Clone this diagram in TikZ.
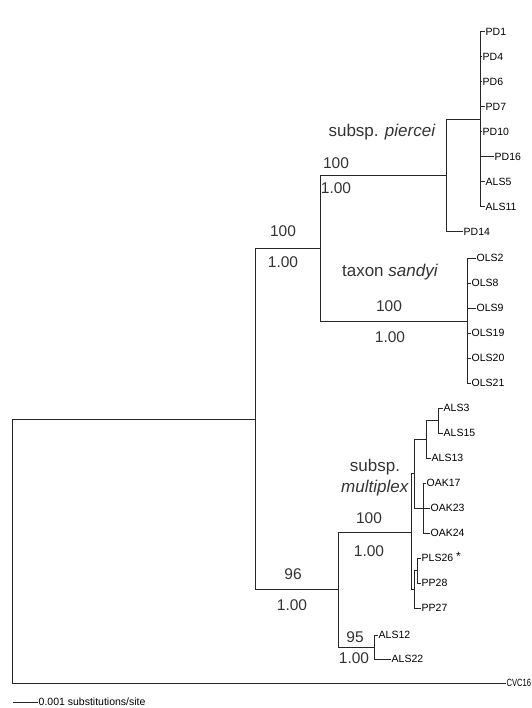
\documentclass[tikz,border=0pt]{standalone}
\usepackage{fontspec}
\setmainfont{Liberation Sans}

\tikzset{
  branch/.style={line width=1pt, draw=black!85, line cap=rect},
  leaf/.style={anchor=west, inner sep=1.5pt, text height=7.4pt, text depth=0pt,
    font=\fontsize{10.5}{12}\selectfont},
  clade/.style={inner sep=0pt, align=center, text=black!80,
    font=\fontsize{17}{21}\selectfont},
  support/.style={inner sep=0pt, text=black!80, font=\fontsize{15.5}{18}\selectfont},
}

\begin{document}
\begin{tikzpicture}[x=1pt, y=-1pt]

  \useasboundingbox (0,0) rectangle (531,708);

  %% ════ 内部节点（像素坐标，y 向下）════
  \coordinate (root)   at (12,551);
  \coordinate (nIn)    at (255,419);
  \coordinate (nUp)    at (320,249);
  \coordinate (nPi)    at (446,176);
  \coordinate (nPD)    at (480,120);
  \coordinate (nSa)    at (467,321);
  \coordinate (nLo)    at (338,589.5);
  \coordinate (nMu)    at (411,532);
  \coordinate (nAO)    at (414,473.5);
  \coordinate (nALS)   at (426,439.5);
  \coordinate (nA315)  at (438,420.5);
  \coordinate (nOAK)   at (423,508);
  \coordinate (nPP)    at (414,589);
  \coordinate (nPP28)  at (417,570.5);
  \coordinate (nA1222) at (374,647);

  %% ════ 叶子标签 ════
  \node[leaf] (PD1)   at (484,32)  {PD1};
  \node[leaf] (PD4)   at (481,57)  {PD4};
  \node[leaf] (PD6)   at (481,82)  {PD6};
  \node[leaf] (PD7)   at (484,107) {PD7};
  \node[leaf] (PD10)  at (481,132) {PD10};
  \node[leaf] (PD16)  at (493,157) {PD16};
  \node[leaf] (ALS5)  at (484,182) {ALS5};
  \node[leaf] (ALS11) at (484,207) {ALS11};
  \node[leaf] (PD14)  at (462,232) {PD14};
  \node[leaf] (OLS2)  at (475,258) {OLS2};
  \node[leaf] (OLS8)  at (470,283) {OLS8};
  \node[leaf] (OLS9)  at (475,308) {OLS9};
  \node[leaf] (OLS19) at (470,333) {OLS19};
  \node[leaf] (OLS20) at (470,358) {OLS20};
  \node[leaf] (OLS21) at (470,383) {OLS21};
  \node[leaf] (ALS3)  at (442,408) {ALS3};
  \node[leaf] (ALS15) at (442,433) {ALS15};
  \node[leaf] (ALS13) at (430,458) {ALS13};
  \node[leaf] (OAK17) at (425,483) {OAK17};
  \node[leaf] (OAK23) at (429,508) {OAK23};
  \node[leaf] (OAK24) at (429,533) {OAK24};
  \node[leaf] (PLS26) at (420,558) {PLS26 \raisebox{1pt}{\fontsize{12}{12}\selectfont*}};
  \node[leaf] (PP28)  at (420,583) {PP28};
  \node[leaf] (PP27)  at (420,608) {PP27};
  \node[leaf] (ALS12) at (377,635) {ALS12};
  \node[leaf] (ALS22) at (390,659) {ALS22};
  \node[leaf] (CVC16) at (505,683) {\scalebox{0.72}[1]{CVC16}};

  %% ════ 枝（父节点 |- 子节点）════
  \draw[branch] (root) |- (nIn);
  \draw[branch] (root) |- (CVC16.west);
  \draw[branch] (nIn) |- (nUp);
  \draw[branch] (nIn) |- (nLo);
  % 上支：piercei + sandyi
  \draw[branch] (nUp) |- (nPi);
  \draw[branch] (nUp) |- (nSa);
  \draw[branch] (nPi) |- (nPD);
  \draw[branch] (nPi) |- (PD14.west);
  \draw[branch] (nPD) |- (PD1.west);
  \draw[branch] (nPD) |- (PD4.west);
  \draw[branch] (nPD) |- (PD6.west);
  \draw[branch] (nPD) |- (PD7.west);
  \draw[branch] (nPD) |- (PD10.west);
  \draw[branch] (nPD) |- (PD16.west);
  \draw[branch] (nPD) |- (ALS5.west);
  \draw[branch] (nPD) |- (ALS11.west);
  \draw[branch] (nSa) |- (OLS2.west);
  \draw[branch] (nSa) |- (OLS8.west);
  \draw[branch] (nSa) |- (OLS9.west);
  \draw[branch] (nSa) |- (OLS19.west);
  \draw[branch] (nSa) |- (OLS20.west);
  \draw[branch] (nSa) |- (OLS21.west);
  % 下支：multiplex + ALS12/22
  \draw[branch] (nLo) |- (nMu);
  \draw[branch] (nLo) |- (nA1222);
  \draw[branch] (nMu) |- (nAO);
  \draw[branch] (nMu) |- (nPP);
  \draw[branch] (nAO) |- (nALS);
  \draw[branch] (nAO) |- (nOAK);
  \draw[branch] (nALS) |- (nA315);
  \draw[branch] (nALS) |- (ALS13.west);
  \draw[branch] (nA315) |- (ALS3.west);
  \draw[branch] (nA315) |- (ALS15.west);
  \draw[branch] (nOAK) |- (OAK17.west);
  \draw[branch] (nOAK) |- (OAK23.west);
  \draw[branch] (nOAK) |- (OAK24.west);
  \draw[branch] (nPP) |- (nPP28);
  \draw[branch] (nPP) |- (PP27.west);
  \draw[branch] (nPP28) |- (PLS26.west);
  \draw[branch] (nPP28) |- (PP28.west);
  \draw[branch] (nA1222) |- (ALS12.west);
  \draw[branch] (nA1222) |- (ALS22.west);

  %% ════ 类群名与支持率 ════
  \node[clade]   (lPi) at (382,132) {subsp. \textit{piercei}};
  \node[support] (bPi) at (336,163) {100};
  \node[support] (pPi) at (336,188) {1.00};
  \node[support] (bUp) at (283,231) {100};
  \node[support] (pUp) at (283,262) {1.00};
  \node[clade]   (lSa) at (390,272) {taxon \textit{sandyi}};
  \node[support] (bSa) at (389,306) {100};
  \node[support] (pSa) at (390,337) {1.00};
  \node[clade]   (lMu) at (375,478) {subsp.\\\textit{multiplex}};
  \node[support] (bMu) at (369,518) {100};
  \node[support] (pMu) at (369,551) {1.00};
  \node[support] (bLo) at (293,574) {96};
  \node[support] (pLo) at (292,605) {1.00};
  \node[support] (bA)  at (355,637) {95};
  \node[support] (pA)  at (354,658) {1.00};

  %% ════ 比例尺 ════
  \coordinate (sbL) at (13,702);
  \node[leaf] (sbR) at (37,702) {0.001 substitutions/site};
  \draw[branch] (sbL) -- (sbR.west);

\end{tikzpicture}
\end{document}
